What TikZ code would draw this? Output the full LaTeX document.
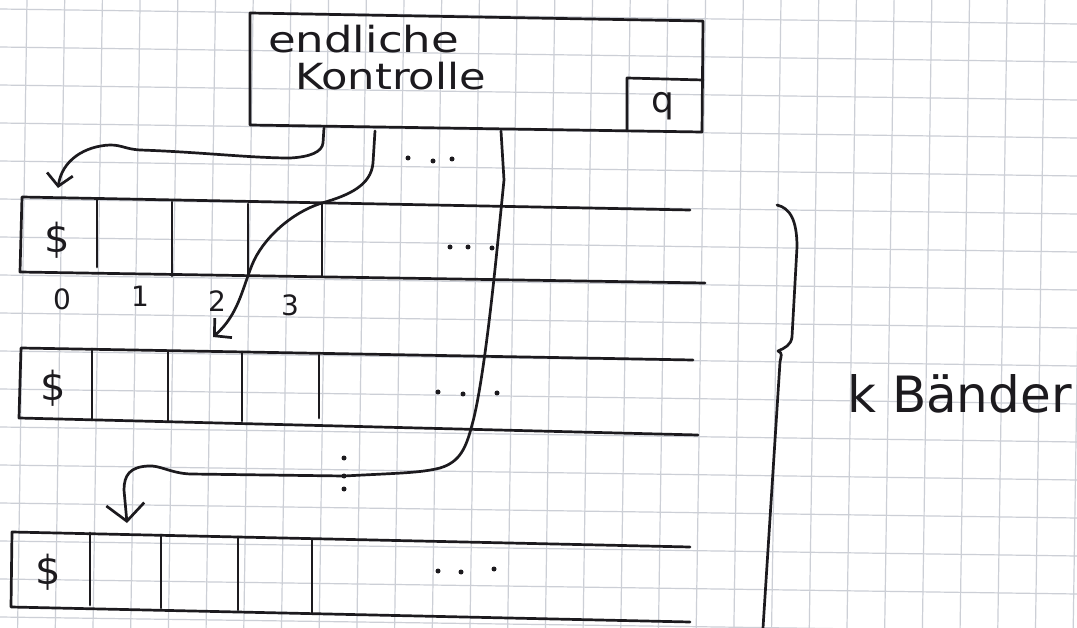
\documentclass[tikz,border=0pt]{standalone}
\usepackage{fontspec}
\setmainfont{DejaVu Sans}
\usetikzlibrary{arrows.meta}
\definecolor{ink}{RGB}{28,26,30}
\definecolor{gridc}{RGB}{204,207,214}
\begin{document}
\begin{tikzpicture}[x=1pt,y=-1pt,
  ink/.style={draw=ink, line width=2.7pt, line cap=round, line join=round},
  gridline/.style={draw=gridc, line width=1.2pt},
  hand/.style={text=ink, inner sep=0pt, font=\fontsize{36}{40}\selectfont},
  digit/.style={text=ink, inner sep=0pt, font=\fontsize{28}{30}\selectfont, anchor=base},
  dollar/.style={text=ink, inner sep=0pt, font=\fontsize{40}{44}\selectfont},
  inkdot/.style={fill=ink, circle, inner sep=0pt, minimum size=5pt},
  arr/.style={ink, -{Straight Barb[length=12pt,width=26pt,line width=2.7pt]}},
  bigarr/.style={ink, -{Straight Barb[length=17pt,width=38pt,line width=2.7pt]}},
]
\fill[white] (0,0) rectangle (1077,628);
\useasboundingbox (0,0) rectangle (1077,628);
% grid paper
\begin{scope}
\clip (0,0) rectangle (1077,628);
\foreach \i in {-1,...,17} { \draw[gridline] (0,9+38*\i) -- (1077,24+38*\i); }
\foreach \j in {-1,...,29} { \draw[gridline] (27+37.7*\j,0) -- (17.6+37.7*\j,628); }
\end{scope}

% control unit
\draw[ink] (250,13) -- (703,21) -- (702,132) -- (250,125) -- cycle;
\draw[ink] (627,131) -- (627,78) -- (703,80);
\node[hand, anchor=base west] (t1) at (268,53) {\scalebox{1.25}[1]{endliche}};
\node[hand, anchor=base west] (t2) at (295,90) {\scalebox{1.2}[1]{Kontrolle}};
\node[hand, anchor=base] (q) at (663,113) {q};

% tape 1
\draw[ink] (690,210) -- (22,197) -- (20,272) -- (705,283);
\draw[ink] (97,200) -- (97,267);
\draw[ink] (172,202) -- (172,276);
\draw[ink] (248,204) -- (248,274);
\draw[ink] (322,204) -- (322,276);
\node[dollar] (d1) at (57,240) {\$};
\node[digit] (n0) at (62,310) {0};
\node[digit] (n1) at (140,307) {1};
\node[digit] (n2) at (217,312) {2};
\node[digit] (n3) at (290,316) {3};

% tape 2
\draw[ink] (693,360) -- (21,348) -- (19,418) -- (698,435);
\draw[ink] (92,349) -- (92,420);
\draw[ink] (168,351) -- (168,421);
\draw[ink] (242,352) -- (242,421);
\draw[ink] (319,355) -- (319,418);
\node[dollar] (d2) at (53,388) {\$};

% tape 3
\draw[ink] (690,547) -- (12,532) -- (11,607) -- (690,622);
\draw[ink] (90,533) -- (90,605);
\draw[ink] (161,535) -- (161,608);
\draw[ink] (238,537) -- (238,610);
\draw[ink] (312,539) -- (312,613);
\node[dollar] (d3) at (48,572) {\$};

% dots
\foreach \p in {(408,158),(433,161),(452,159),
                (450,247),(468,247),(492,248),
                (438,392),(463,394),(497,393),
                (438,571),(461,572),(494,569),
                (344,458),(344,476),(344,489)}
  { \node[inkdot] at \p {}; }

% head connectors
\coordinate (a1s) at (324,128);
\coordinate (a1e) at (58,188);
\coordinate (a2s) at (375,131);
\coordinate (a2e) at (213,337);
\coordinate (a3s) at (501,131);
\coordinate (a3e) at (127,523);
\draw[arr] (a1s) -- (323,143) .. controls (322,152) and (310,157) .. (290,158)
  .. controls (250,158) and (200,152) .. (140,150)
  .. controls (125,149) and (122,145) .. (110,145)
  .. controls (85,146) and (62,160) .. (a1e);
\draw[arr] (a2s) -- (373,163) .. controls (371,185) and (350,195) .. (322,203)
  .. controls (290,213) and (262,240) .. (252,265)
  .. controls (242,290) and (238,315) .. (a2e);
\draw[bigarr] (a3s) -- (504,180) -- (498,240)
  .. controls (492,300) and (482,390) .. (472,425)
  .. controls (466,448) and (460,462) .. (440,468)
  .. controls (420,473) and (400,473) .. (344,476) -- (190,474)
  .. controls (170,473) and (160,465) .. (148,466)
  .. controls (130,467) and (124,475) .. (124,490) -- (a3e);

% brace
\draw[ink] (777,205) .. controls (790,208) and (797,220) .. (797,247) -- (792,337)
  .. controls (791,345) and (785,348) .. (778,351)
  .. controls (783,353) and (781,356) .. (780,362) -- (763,628);
\node[hand, anchor=base west, font=\fontsize{50}{54}\selectfont] (k) at (847,413) {k Bänder};
\end{tikzpicture}
\end{document}
